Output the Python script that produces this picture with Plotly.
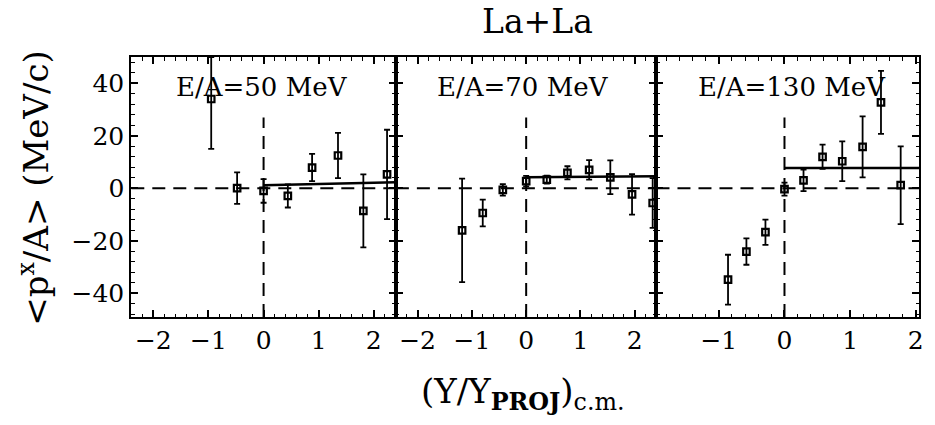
import plotly.graph_objects as go

# ---------------- data ----------------
title_text = "La+La"
panel_labels = ["E/A=50 MeV", "E/A=70 MeV", "E/A=130 MeV"]
x_ranges = [[-2.4, 2.4], [-2.4, 2.4], [-1.95, 2.05]]
y_range = [-49, 50]
x_tickvals = [[-2, -1, 0, 1, 2], [-2, -1, 0, 1, 2], [-1, 0, 1, 2]]
y_tickvals = [-40, -20, 0, 20, 40]

# E/A = 50 MeV  (upper error of the first point runs to the frame)
x50 = [-0.95, -0.48, 0.0, 0.44, 0.88, 1.35, 1.81, 2.24]
y50 = [34.0, 0.1, -1.0, -2.9, 7.9, 12.5, -8.6, 5.3]
e50_up = [16.0, 6.0, 4.5, 4.4, 5.2, 8.6, 13.9, 17.0]
e50_dn = [19.0, 6.0, 4.5, 4.4, 5.2, 8.6, 13.9, 17.0]
# E/A = 70 MeV
x70 = [-1.18, -0.80, -0.43, 0.0, 0.38, 0.76, 1.16, 1.55, 1.95, 2.33]
y70 = [-16.0, -9.4, -0.6, 2.7, 3.3, 5.9, 7.0, 4.2, -2.3, -5.6]
e70 = [19.7, 5.1, 2.2, 2.0, 1.5, 2.5, 3.7, 6.4, 7.7, 9.5]
# E/A = 130 MeV
x130 = [-0.86, -0.58, -0.29, 0.0, 0.29, 0.58, 0.88, 1.19, 1.47, 1.77]
y130 = [-34.8, -24.1, -16.7, -0.3, 3.0, 12.0, 10.3, 15.8, 32.7, 1.2]
e130 = [9.5, 5.0, 4.8, 2.5, 4.1, 4.6, 7.6, 11.6, 12.0, 14.8]

# straight-line fits (forward hemisphere)
fit_x = [[0, 2.4], [0, 2.4], [0, 2.05]]
fit_y = [[1.2, 2.3], [4.2, 4.6], [7.7, 7.7]]
vline_top = 27  # upper end of the dashed x=0 line

panels = [(x50, y50, e50_up, e50_dn), (x70, y70, e70, e70), (x130, y130, e130, e130)]

# ---------------- figure ----------------
W, H = 935, 425
x_dom_px = [(132, 398), (398, 660), (660, 924)]
y_dom_px = (57, 317)
y_domain = [1 - y_dom_px[1] / H, 1 - y_dom_px[0] / H]

FONT = "DejaVu Serif"
DASH = dict(color="black", width=2, dash="13px,8px")
fig = go.Figure()

for i, (xs, ys, eu, ed) in enumerate(panels):
    n = "" if i == 0 else str(i + 1)
    xa, ya = "x" + n, "y" + n
    xr = x_ranges[i]
    # dashed zero lines
    fig.add_trace(go.Scatter(x=xr, y=[0, 0], mode="lines", xaxis=xa, yaxis=ya,
                             line=DASH, showlegend=False, hoverinfo="skip"))
    fig.add_trace(go.Scatter(x=[0, 0], y=[y_range[0], vline_top], mode="lines",
                             xaxis=xa, yaxis=ya, line=DASH,
                             showlegend=False, hoverinfo="skip"))
    # fit line
    fig.add_trace(go.Scatter(x=fit_x[i], y=fit_y[i], mode="lines", xaxis=xa, yaxis=ya,
                             line=dict(color="black", width=2.5),
                             showlegend=False, hoverinfo="skip"))
    # data
    fig.add_trace(go.Scatter(x=xs, y=ys, mode="markers", xaxis=xa, yaxis=ya,
                             cliponaxis=False,
                             marker=dict(symbol="square-open", size=6.5, color="black",
                                         line=dict(width=2.2, color="black")),
                             error_y=dict(type="data", symmetric=False, array=eu,
                                          arrayminus=ed, visible=True,
                                          color="black", thickness=1.8, width=3),
                             showlegend=False))

    axis_common = dict(showline=True, linecolor="black", linewidth=2, mirror="ticks",
                       ticks="inside", ticklen=7, tickwidth=1.5, tickcolor="black",
                       showgrid=False, zeroline=False,
                       tickfont=dict(family=FONT, size=25, color="black"))
    x0, x1 = x_dom_px[i]
    fig.update_layout(**{
        "xaxis" + n: dict(axis_common, domain=[x0 / W, x1 / W], range=xr,
                          tickvals=x_tickvals[i], anchor=ya,
                          minor=dict(ticks="inside", ticklen=3.5, tickwidth=1,
                                     tickcolor="black", dtick=0.2)),
        "yaxis" + n: dict(axis_common, domain=y_domain, range=y_range,
                          tickvals=y_tickvals, anchor=xa, showticklabels=(i == 0),
                          minor=dict(ticks="inside", ticklen=3.5, tickwidth=1,
                                     tickcolor="black", dtick=4)),
    })
    fig.add_annotation(text=panel_labels[i], xref=xa + " domain", yref=ya + " domain",
                       x=0.15 if i else 0.16, y=0.885, xanchor="left", yanchor="middle",
                       showarrow=False, font=dict(family=FONT, size=26, color="black"))

fig.add_annotation(text=title_text, xref="paper", yref="paper", x=540 / W, y=1 - 22 / H,
                   xanchor="center", yanchor="middle", showarrow=False,
                   font=dict(family=FONT, size=33, color="black"))
fig.add_annotation(text="(Y/Y<sub><b>PROJ</b></sub>)<sub>c.m.</sub>", xref="paper",
                   yref="paper", x=526 / W, y=1 - 393 / H, xanchor="center",
                   yanchor="middle", showarrow=False,
                   font=dict(family=FONT, size=34, color="black"))
fig.add_annotation(text="&lt;p<sup>x</sup>/A&gt; (MeV/c)", xref="paper", yref="paper",
                   x=34 / W, y=1 - 188 / H, xanchor="center", yanchor="middle",
                   textangle=-90, showarrow=False,
                   font=dict(family=FONT, size=34, color="black"))

fig.update_layout(width=W, height=H, margin=dict(l=0, r=0, t=0, b=0),
                  paper_bgcolor="white", plot_bgcolor="rgba(0,0,0,0)")
fig.write_html("out.html")
